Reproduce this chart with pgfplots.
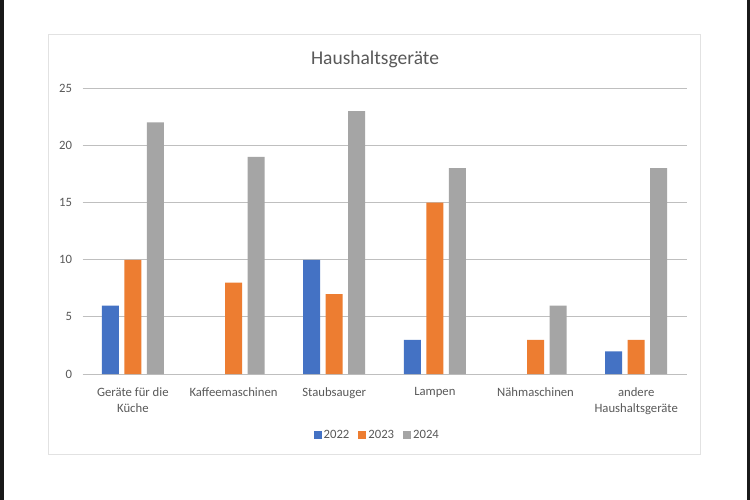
\documentclass[border=0pt]{standalone}
\usepackage{pgfplots}
\pgfplotsset{compat=1.18}
\usepackage{fontspec}
\setmainfont{Carlito}
\definecolor{cblue}{HTML}{4472C4}
\definecolor{corange}{HTML}{ED7D31}
\definecolor{cgray}{HTML}{A5A5A5}
\definecolor{grid}{HTML}{E2E2E2}
\definecolor{txt}{HTML}{595959}
\begin{document}
\begin{tikzpicture}[x=1pt,y=1pt]
\useasboundingbox (0,0) rectangle (750,500);
\fill[white] (0,0) rectangle (750,500);
\fill[black!90] (0,0) rectangle (4,500);
\fill[black!90] (747,0) rectangle (750,500);
\draw[grid, line width=1pt] (48,45) rectangle (700,465);
\node[text=txt, font=\fontsize{19.5}{22}\selectfont] at (375,441) {Haushaltsgeräte};
\begin{axis}[
  at={(82,110)}, anchor=south west,
  scale only axis, width=604pt, height=286pt,
  xmin=-0.5, xmax=5.5, ymin=0, ymax=25,
  ytick={0,5,10,15,20,25},
  xtick={0,1,2,3,4,5},
  xticklabels={{Geräte für die\\Küche},Kaffeemaschinen,Staubsauger,Lampen,Nähmaschinen,{andere\\Haushaltsgeräte}},
  xticklabel style={align=center, text=txt, font=\fontsize{12.7}{15.5}\selectfont, yshift=-10pt},
  yticklabel style={text=txt, font=\fontsize{12.7}{14}\selectfont, xshift=-7pt},
  /pgf/number format/assume math mode=true,
  major tick length=0pt,
  xmajorgrids=false, ymajorgrids=true, grid style={grid, line width=1pt},
  axis line style={draw=none},
  ybar, bar width=17pt,
  legend style={at={(0.488,-0.213)}, anchor=center, draw=none, legend columns=3,
    font=\fontsize{12.7}{14}\selectfont, text=txt,
    /tikz/every even column/.append style={column sep=7pt}},
  legend image code/.code={\fill[#1] (0pt,-4pt) rectangle (8pt,4pt);},
]
\addplot[fill=cblue, draw=none, bar shift=-22.5pt] coordinates {(0,6) (2,10) (3,3) (5,2)};
\addplot[fill=corange, draw=none, bar shift=0pt] coordinates {(0,10) (1,8) (2,7) (3,15) (4,3) (5,3)};
\addplot[fill=cgray, draw=none, bar shift=22.5pt] coordinates {(0,22) (1,19) (2,23) (3,18) (4,6) (5,18)};
\legend{2022,2023,2024}
\end{axis}
\end{tikzpicture}
\end{document}
